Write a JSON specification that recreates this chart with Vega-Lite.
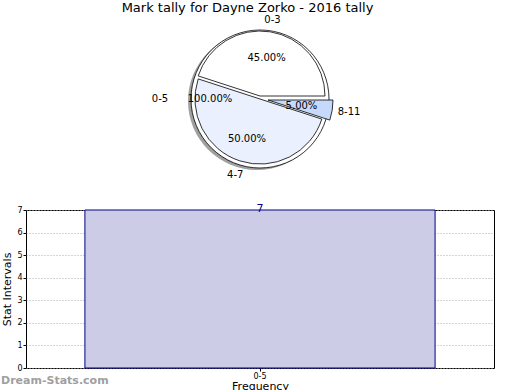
{
  "$schema": "https://vega.github.io/schema/vega-lite/v6.json",
  "padding": {"left": 0, "top": 1, "right": 27, "bottom": 0},
  "config": {
    "font": "DejaVu Sans",
    "view": {"stroke": null},
    "axis": {"labelFont": "DejaVu Sans", "titleFont": "DejaVu Sans", "labelColor": "#000", "titleColor": "#000", "titleFontWeight": "normal"}
  },
  "title": {"text": "Mark tally for Dayne Zorko - 2016 tally", "fontSize": 13, "fontWeight": "normal", "anchor": "middle", "color": "#000", "offset": 0},
  "bounds": "flush",
  "spacing": 33,
  "datasets": {
    "slices": [
      {"label": "0-3", "pct": 45, "txt": "45.00%"},
      {"label": "4-7", "pct": 50, "txt": "50.00%"},
      {"label": "8-11", "pct": 5, "txt": "5.00%"}
    ],
    "whole": [
      {"label": "0-5", "pct": 100, "txt": "100.00%"}
    ],
    "bars": [
      {"interval": "0-5", "count": 7}
    ]
  },
  "vconcat": [
    {
      "width": 468,
      "height": 156,
      "view": {"stroke": null},
      "layer": [
        {
          "data": {"name": "whole"},
          "mark": {"type": "arc", "radius": 69, "fill": "#777", "opacity": 0.7, "xOffset": -3, "yOffset": 2},
          "encoding": {"theta": {"field": "pct", "type": "quantitative", "stack": true}}
        },
        {
          "data": {"name": "whole"},
          "mark": {"type": "arc", "radius": 69, "fill": "#fff", "stroke": "#000", "strokeWidth": 0.8},
          "encoding": {"theta": {"field": "pct", "type": "quantitative", "stack": true}}
        },
        {
          "data": {"name": "slices"},
          "mark": {"type": "arc", "radius": 65, "stroke": "#000", "strokeWidth": 0.8,
                   "xOffset": {"expr": "datum.label == '8-11' ? 8 : 0"},
                   "yOffset": {"expr": "datum.label == '0-3' ? -3 : (datum.label == '8-11' ? 1 : 0)"}},
          "encoding": {
            "theta": {"field": "pct", "type": "quantitative", "stack": true, "scale": {"range": [1.5708, 7.854]}},
            "order": {"field": "label", "sort": "descending"},
            "color": {"field": "label", "type": "nominal", "legend": null,
                      "scale": {"domain": ["0-3", "4-7", "8-11"], "range": ["#ffffff", "#eaf0fd", "#c6d9fb"]}}
          }
        },
        {
          "data": {"name": "slices"},
          "mark": {"type": "text", "radius": 42, "fontSize": 10, "color": "#000"},
          "encoding": {
            "theta": {"field": "pct", "type": "quantitative", "stack": true},
            "order": {"field": "label", "sort": "descending"},
            "text": {"field": "txt"}
          }
        },
        {
          "data": {"name": "slices"},
          "mark": {"type": "text", "radius": 80, "fontSize": 10, "color": "#000",
                   "dx": {"expr": "datum.label == '8-11' ? 10 : 0"}},
          "encoding": {
            "theta": {"field": "pct", "type": "quantitative", "stack": true},
            "order": {"field": "label", "sort": "descending"},
            "text": {"field": "label"}
          }
        },
        {
          "data": {"name": "whole"},
          "mark": {"type": "text", "radius": 50, "fontSize": 10, "color": "#000"},
          "encoding": {
            "theta": {"field": "pct", "type": "quantitative", "stack": true},
            "text": {"field": "txt"}
          }
        },
        {
          "data": {"name": "whole"},
          "mark": {"type": "text", "radius": 100, "fontSize": 10, "color": "#000"},
          "encoding": {
            "theta": {"field": "pct", "type": "quantitative", "stack": true},
            "text": {"field": "label"}
          }
        }
      ]
    },
    {
      "width": 468,
      "height": 158,
      "data": {"name": "bars"},
      "view": {"stroke": "#000", "strokeWidth": 1},
      "title": {"text": "Dream-Stats.com", "orient": "bottom", "anchor": "start", "frame": "group", "dx": -25, "offset": -16, "fontSize": 11, "fontWeight": "bold", "color": "#a0a0a0"},
      "encoding": {
        "x": {"field": "interval", "type": "nominal",
              "scale": {"paddingInner": 0.144, "paddingOuter": 0.144},
              "axis": {"title": "Frequency", "titleFontSize": 11, "titlePadding": 0, "labelFontSize": 8, "labelAngle": 0, "domain": false, "tickSize": 3, "tickColor": "#000", "labelPadding": 1,
                       "grid": true, "bandPosition": 0.5, "gridColor": "#999", "gridDash": [1, 2], "gridWidth": 1}},
        "y": {"field": "count", "type": "quantitative",
              "scale": {"domain": [0, 7], "nice": false},
              "axis": {"title": "Stat Intervals", "titleFontSize": 11, "titlePadding": 4, "labelFontSize": 8, "values": [0, 1, 2, 3, 4, 5, 6, 7], "domain": false, "tickSize": 3, "tickColor": "#000", "labelPadding": 1,
                       "grid": true, "gridColor": "#aaa", "gridDash": [1, 2], "gridWidth": 1}}
      },
      "layer": [
        {"mark": {"type": "bar", "fill": "#ccccE6", "stroke": "#00008b", "strokeWidth": 1}},
        {"mark": {"type": "text", "baseline": "bottom", "dy": 4, "fontSize": 11, "color": "#00008b"},
         "encoding": {"text": {"field": "count", "type": "quantitative"}}}
      ]
    }
  ]
}
